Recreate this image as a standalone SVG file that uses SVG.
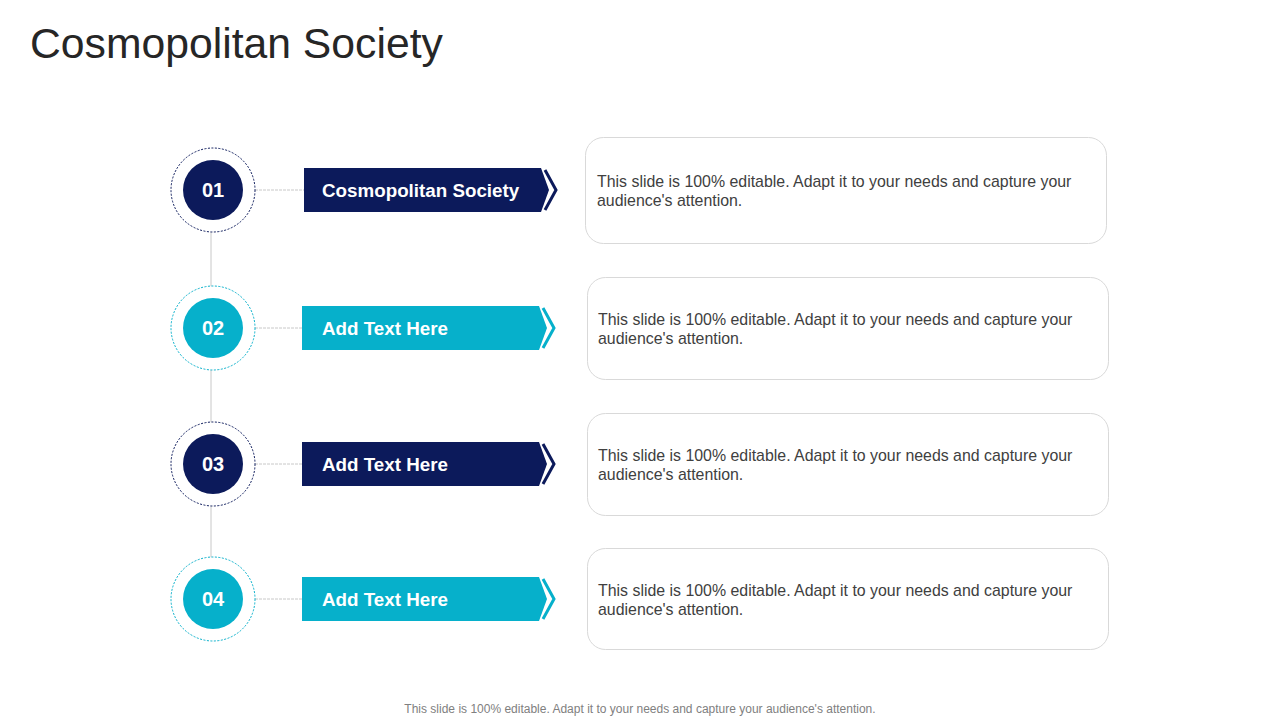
<svg xmlns="http://www.w3.org/2000/svg" width="1280" height="720" viewBox="0 0 1280 720">
<style>
.title{font-family:"Liberation Sans",Arial,sans-serif;font-size:42.7px;fill:#262626}
.foot{font-family:"Liberation Sans",Arial,sans-serif;font-size:12px;fill:#808080}
.num{font-family:"Liberation Sans",Arial,sans-serif;font-size:20px;font-weight:bold;fill:#fff}
.lbl{font-family:"Liberation Sans",Arial,sans-serif;font-size:18.8px;font-weight:bold;fill:#fff}
.desc{font-family:"Liberation Sans",Arial,sans-serif;font-size:15.9px;fill:#404040}
.box{fill:#fff;stroke:#d9d9d9;stroke-width:1}
.link{stroke:#c8c8c8;stroke-width:1;fill:none}
.navy{fill:#0c1a5b}
.teal{fill:#06b0cb}
.ringN{fill:#fff;stroke:#0c1a5b;stroke-width:1;stroke-dasharray:2 1.5}
.ringT{fill:#fff;stroke:#06b0cb;stroke-width:1;stroke-dasharray:2 1.5}
.chevN{fill:none;stroke:#0c1a5b;stroke-width:3}
.chevT{fill:none;stroke:#06b0cb;stroke-width:3}
</style>
<rect width="1280" height="720" fill="#fff"/>
<text class="title" x="30" y="58">Cosmopolitan Society</text>
<g id="connectors">
<line class="link" x1="211" y1="232" x2="211" y2="287"/>
<line class="link" x1="211" y1="370" x2="211" y2="423"/>
<line class="link" x1="211" y1="506" x2="211" y2="558"/>
<line class="link" x1="255" y1="190" x2="304" y2="190" stroke-dasharray="3 1"/>
<line class="link" x1="255" y1="328" x2="302" y2="328" stroke-dasharray="3 1"/>
<line class="link" x1="255" y1="464" x2="302" y2="464" stroke-dasharray="3 1"/>
<line class="link" x1="255" y1="599" x2="302" y2="599" stroke-dasharray="3 1"/>
</g>
<g id="node1">
<circle class="ringN" cx="213" cy="190" r="42"/>
<circle class="navy" cx="213" cy="190" r="30"/>
<text class="num" x="213" y="197" text-anchor="middle">01</text>
<polygon class="navy" points="304,168 541,168 549,190 541,212 304,212"/>
<polyline class="chevN" points="545,170 556,190 545,210"/>
<text class="lbl" x="322" y="197">Cosmopolitan Society</text>
<rect class="box" x="585.5" y="137.5" width="521" height="106" rx="18"/>
<text class="desc" x="597" y="187">This slide is 100% editable. Adapt it to your needs and capture your</text>
<text class="desc" x="597" y="206">audience's attention.</text>
</g>
<g id="node2">
<circle class="ringT" cx="213" cy="328" r="42"/>
<circle class="teal" cx="213" cy="328" r="30"/>
<text class="num" x="213" y="335" text-anchor="middle">02</text>
<polygon class="teal" points="302,306 539,306 547,328 539,350 302,350"/>
<polyline class="chevT" points="543,308 554,328 543,348"/>
<text class="lbl" x="322" y="335">Add Text Here</text>
<rect class="box" x="587.5" y="277.5" width="521" height="102" rx="18"/>
<text class="desc" x="598" y="325">This slide is 100% editable. Adapt it to your needs and capture your</text>
<text class="desc" x="598" y="344">audience's attention.</text>
</g>
<g id="node3">
<circle class="ringN" cx="213" cy="464" r="42"/>
<circle class="navy" cx="213" cy="464" r="30"/>
<text class="num" x="213" y="471" text-anchor="middle">03</text>
<polygon class="navy" points="302,442 539,442 547,464 539,486 302,486"/>
<polyline class="chevN" points="543,444 554,464 543,484"/>
<text class="lbl" x="322" y="471">Add Text Here</text>
<rect class="box" x="587.5" y="413.5" width="521" height="102" rx="18"/>
<text class="desc" x="598" y="461">This slide is 100% editable. Adapt it to your needs and capture your</text>
<text class="desc" x="598" y="480">audience's attention.</text>
</g>
<g id="node4">
<circle class="ringT" cx="213" cy="599" r="42"/>
<circle class="teal" cx="213" cy="599" r="30"/>
<text class="num" x="213" y="606" text-anchor="middle">04</text>
<polygon class="teal" points="302,577 539,577 547,599 539,621 302,621"/>
<polyline class="chevT" points="543,579 554,599 543,619"/>
<text class="lbl" x="322" y="606">Add Text Here</text>
<rect class="box" x="587.5" y="548.5" width="521" height="101" rx="18"/>
<text class="desc" x="598" y="596">This slide is 100% editable. Adapt it to your needs and capture your</text>
<text class="desc" x="598" y="615">audience's attention.</text>
</g>
<text class="foot" x="640" y="713" text-anchor="middle">This slide is 100% editable. Adapt it to your needs and capture your audience's attention.</text>
</svg>
